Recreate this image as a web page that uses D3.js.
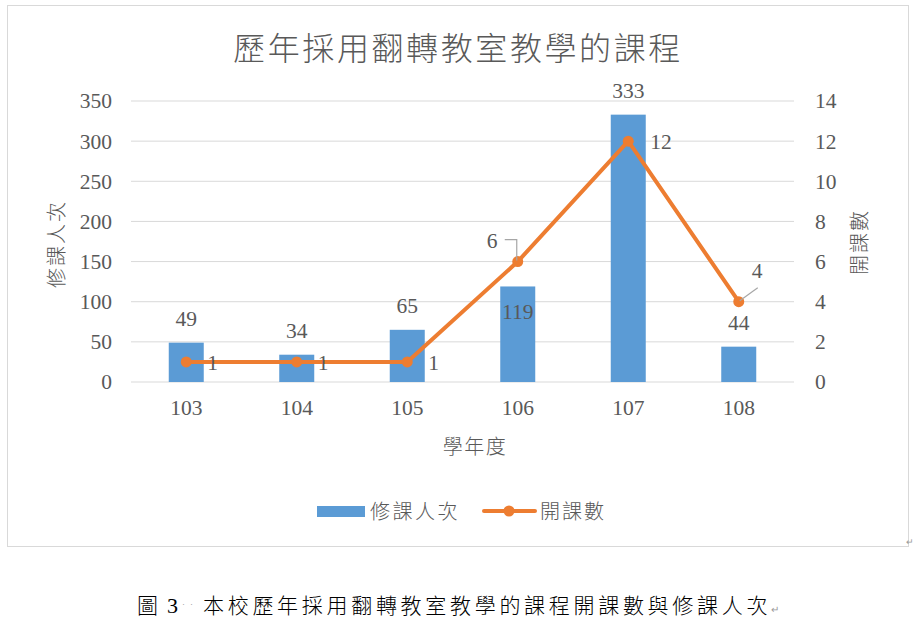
<!DOCTYPE html>
<html>
<head>
<meta charset="utf-8">
<script src="https://cdn.jsdelivr.net/npm/d3@7"></script>
<style>
  body { margin: 0; background: #fff; }
  text { fill: #595959; }
</style>
</head>
<body>
<svg width="916" height="624"></svg>
<script>
// data
const years = ["103", "104", "105", "106", "107", "108"];
const students = [49, 34, 65, 119, 333, 44];   // 修課人次
const courses = [1, 1, 1, 6, 12, 4];            // 開課數
const leftTicks = [0, 50, 100, 150, 200, 250, 300, 350];
const rightTicks = [0, 2, 4, 6, 8, 10, 12, 14];

const numFont = "'Liberation Serif', 'Times New Roman', serif";
const cjkFont = "'Noto Sans CJK TC', 'Noto Sans CJK SC', sans-serif";
const blue = "#5B9BD5", orange = "#ED7D31", grid = "#D9D9D9";
const numSize = "21.5px";

const svg = d3.select("svg");

// chart frame
svg.append("rect")
    .attr("x", 7.5).attr("y", 5.5)
    .attr("width", 901).attr("height", 541)
    .attr("fill", "#fff")
    .attr("stroke", grid);

const plotLeft = 131, plotRight = 794, plotTop = 101, plotBottom = 382;

const x = d3.scaleBand().domain(years).range([plotLeft, plotRight]);
const yL = d3.scaleLinear().domain([0, 350]).range([plotBottom, plotTop]);
const yR = d3.scaleLinear().domain([0, 14]).range([plotBottom, plotTop]);

// gridlines
svg.append("g")
    .selectAll("line")
    .data(leftTicks)
    .enter()
    .append("line")
    .attr("x1", plotLeft).attr("x2", plotRight)
    .attr("y1", d => yL(d)).attr("y2", d => yL(d))
    .attr("stroke", grid)
    .attr("stroke-width", 1);

// axes (labels only)
const axisL = svg.append("g")
    .attr("transform", `translate(${plotLeft - 19}, 0)`)
    .call(d3.axisLeft(yL).tickValues(leftTicks).tickSize(0).tickPadding(0));
const axisR = svg.append("g")
    .attr("transform", `translate(${plotRight + 21}, 0)`)
    .call(d3.axisRight(yR).tickValues(rightTicks).tickSize(0).tickPadding(0));
const axisB = svg.append("g")
    .attr("transform", `translate(0, ${plotBottom + 18})`)
    .call(d3.axisBottom(x).tickSize(0).tickPadding(0));

[axisL, axisR, axisB].forEach(a => {
    a.select(".domain").remove();
    a.selectAll("text")
        .style("font-family", numFont)
        .style("font-size", numSize)
        .attr("fill", "#595959");
});
axisB.selectAll("text").attr("dy", "0.71em");

// bars
const barW = 35;
const cx = i => x(years[i]) + x.bandwidth() / 2;
svg.append("g")
    .selectAll("rect")
    .data(students)
    .enter()
    .append("rect")
    .attr("x", (d, i) => cx(i) - barW / 2)
    .attr("y", d => yL(d))
    .attr("width", barW)
    .attr("height", d => plotBottom - yL(d))
    .attr("fill", blue);

// bar labels
svg.append("g")
    .selectAll("text")
    .data(students)
    .enter()
    .append("text")
    .attr("x", (d, i) => cx(i))
    .attr("y", (d, i) => i === 3 ? yL(d) + 33 : yL(d) - 17)
    .attr("text-anchor", "middle")
    .style("font-family", numFont)
    .style("font-size", numSize)
    .text(d => d);

// line
const line = d3.line()
    .x((d, i) => cx(i))
    .y(d => yR(d));

svg.append("path")
    .datum(courses)
    .attr("d", line)
    .attr("fill", "none")
    .attr("stroke", orange)
    .attr("stroke-width", 4)
    .attr("stroke-linejoin", "round");

svg.append("g")
    .selectAll("circle")
    .data(courses)
    .enter()
    .append("circle")
    .attr("cx", (d, i) => cx(i))
    .attr("cy", d => yR(d))
    .attr("r", 5.5)
    .attr("fill", orange);

// leader lines for 6 and 4
svg.append("path")
    .attr("d", `M${cx(3) - 13},${yR(6) - 22} H${cx(3) - 1} V${yR(6) - 1}`)
    .attr("fill", "none")
    .attr("stroke", "#A6A6A6")
    .attr("stroke-width", 1.2);
svg.append("path")
    .attr("d", `M${cx(5) + 1},${yR(4) - 1} L${cx(5) + 19},${yR(4) - 14}`)
    .attr("fill", "none")
    .attr("stroke", "#A6A6A6")
    .attr("stroke-width", 1.2);

// line labels
const lblPos = [[21, 8], [21, 8], [21, 8], [-31, -14], [22, 8], [13, -24]];
svg.append("g")
    .selectAll("text")
    .data(courses)
    .enter()
    .append("text")
    .attr("x", (d, i) => cx(i) + lblPos[i][0])
    .attr("y", (d, i) => yR(d) + lblPos[i][1])
    .style("font-family", numFont)
    .style("font-size", numSize)
    .text(d => d);

// title
svg.append("text")
    .attr("x", 458).attr("y", 60)
    .attr("text-anchor", "middle")
    .style("font-family", cjkFont)
    .style("font-weight", 300)
    .style("font-size", "32px")
    .style("letter-spacing", "2.6px")
    .text("歷年採用翻轉教室教學的課程");

// axis titles
svg.append("text")
    .attr("transform", "translate(64, 244) rotate(-90)")
    .attr("text-anchor", "middle")
    .style("font-family", cjkFont)
    .style("font-weight", 300)
    .style("font-size", "20px")
    .style("letter-spacing", "2px")
    .text("修課人次");

svg.append("text")
    .attr("transform", "translate(867, 242) rotate(-90)")
    .attr("text-anchor", "middle")
    .style("font-family", cjkFont)
    .style("font-weight", 300)
    .style("font-size", "20px")
    .style("letter-spacing", "2px")
    .text("開課數");

svg.append("text")
    .attr("x", 475).attr("y", 454)
    .attr("text-anchor", "middle")
    .style("font-family", cjkFont)
    .style("font-weight", 300)
    .style("font-size", "20px")
    .style("letter-spacing", "1.5px")
    .text("學年度");

// legend
const leg = svg.append("g");
leg.append("rect")
    .attr("x", 317).attr("y", 506)
    .attr("width", 48).attr("height", 11)
    .attr("fill", blue);
leg.append("text")
    .attr("x", 370).attr("y", 519)
    .style("font-family", cjkFont)
    .style("font-weight", 300)
    .style("font-size", "20px")
    .style("letter-spacing", "2.5px")
    .text("修課人次");
leg.append("line")
    .attr("x1", 484).attr("x2", 535)
    .attr("y1", 511).attr("y2", 511)
    .attr("stroke", orange)
    .attr("stroke-width", 4)
    .attr("stroke-linecap", "round");
leg.append("circle")
    .attr("cx", 509).attr("cy", 511)
    .attr("r", 5.5)
    .attr("fill", orange);
leg.append("text")
    .attr("x", 540).attr("y", 519)
    .style("font-family", cjkFont)
    .style("font-weight", 300)
    .style("font-size", "20px")
    .style("letter-spacing", "2px")
    .text("開課數");

// paragraph mark after the chart
svg.append("text")
    .attr("x", 906).attr("y", 545)
    .style("font-size", "9px")
    .style("font-family", numFont)
    .style("fill", "#999")
    .text("↵");

// caption below the chart
const cap = svg.append("text")
    .attr("x", 137).attr("y", 613)
    .style("font-size", "21px")
    .style("fill", "#000");
cap.append("tspan").style("font-family", cjkFont).style("font-weight", 300).text("圖");
cap.append("tspan").attr("dx", 9).style("font-family", numFont).style("font-size", "22px").text("3");
cap.append("tspan").attr("dx", 4).attr("dy", -6).style("font-family", numFont).style("font-size", "9px").style("fill", "#888").text("·");
cap.append("tspan").attr("dx", 5).style("font-family", numFont).style("font-size", "9px").style("fill", "#888").text("·");
cap.append("tspan").attr("dx", 10).attr("dy", 6).style("font-family", cjkFont).style("font-weight", 300).style("letter-spacing", "3.7px").text("本校歷年採用翻轉教室教學的課程開課數與修課人次");
cap.append("tspan").style("font-family", numFont).style("font-size", "10px").style("fill", "#999").text("↵");
</script>
</body>
</html>
